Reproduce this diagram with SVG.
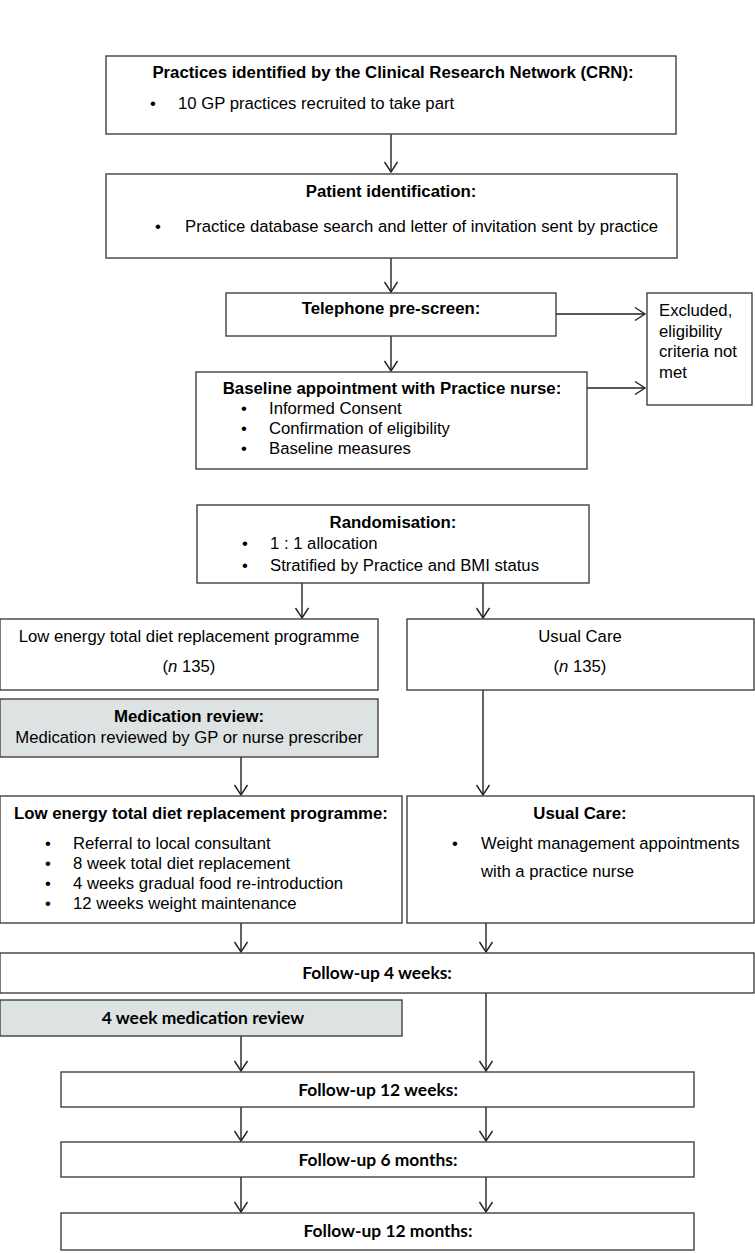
<svg xmlns="http://www.w3.org/2000/svg" width="755" height="1253" viewBox="0 0 755 1253">
<style>
.box{fill:#fff;stroke:#404040;stroke-width:1.4}
.grey{fill:#dde3e2;stroke:#404040;stroke-width:1.4}
text{font-family:"Liberation Sans",Arial,sans-serif;font-size:16.7px;fill:#000}
.b{font-weight:bold;font-size:16.8px}
.c{text-anchor:middle}
.cal{font-family:Lato,"Liberation Sans",sans-serif;font-weight:bold;font-size:17.4px}
.con{stroke:#222;stroke-width:1.4;fill:none;marker-end:url(#ah)}
</style>
<defs>
<marker id="ah" markerUnits="userSpaceOnUse" viewBox="-12 -8 14 16" refX="0" refY="0" markerWidth="14" markerHeight="16" orient="auto">
<path d="M-10,-6.5 L0,0 L-10,6.5" fill="none" stroke="#222" stroke-width="1.4"/>
</marker>
</defs>
<rect width="755" height="1253" fill="#fff"/>
<g id="connectors">
<line class="con" x1="391" y1="134" x2="391" y2="172"/>
<line class="con" x1="391" y1="258" x2="391" y2="292"/>
<line class="con" x1="391" y1="336" x2="391" y2="371"/>
<line class="con" x1="556" y1="314" x2="645" y2="314"/>
<line class="con" x1="587" y1="388" x2="645" y2="388"/>
<line class="con" x1="302" y1="583" x2="302" y2="618"/>
<line class="con" x1="483" y1="583" x2="483" y2="618"/>
<line class="con" x1="241" y1="757" x2="241" y2="795"/>
<line class="con" x1="483" y1="690" x2="483" y2="795"/>
<line class="con" x1="241" y1="923" x2="241" y2="952"/>
<line class="con" x1="486" y1="923" x2="486" y2="952"/>
<line class="con" x1="241" y1="1036" x2="241" y2="1071"/>
<line class="con" x1="486" y1="993" x2="486" y2="1071"/>
<line class="con" x1="241" y1="1107" x2="241" y2="1141"/>
<line class="con" x1="486" y1="1107" x2="486" y2="1141"/>
<line class="con" x1="241" y1="1177" x2="241" y2="1212"/>
<line class="con" x1="486" y1="1177" x2="486" y2="1212"/>
</g>
<g id="practices">
<rect class="box" x="106" y="56" width="570" height="78"/>
<text class="b c" x="393" y="78">Practices identified by the Clinical Research Network (CRN):</text>
<text x="150" y="109">•</text>
<text x="178" y="109">10 GP practices recruited to take part</text>
</g>
<g id="patient-id">
<rect class="box" x="106" y="174" width="571" height="84"/>
<text class="b c" x="391" y="197">Patient identification:</text>
<text x="155" y="232">•</text>
<text x="185" y="232">Practice database search and letter of invitation sent by practice</text>
</g>
<g id="telephone">
<rect class="box" x="226" y="293" width="330" height="43"/>
<text class="b c" x="391" y="314">Telephone pre-screen:</text>
</g>
<g id="excluded">
<rect class="box" x="647" y="293" width="105" height="112"/>
<text x="659" y="316">Excluded,</text>
<text x="659" y="337">eligibility</text>
<text x="659" y="357">criteria not</text>
<text x="659" y="378">met</text>
</g>
<g id="baseline">
<rect class="box" x="196" y="372" width="391" height="97"/>
<text class="b c" x="392" y="394">Baseline appointment with Practice nurse:</text>
<text x="241" y="414">•</text><text x="269" y="414">Informed Consent</text>
<text x="241" y="434">•</text><text x="269" y="434">Confirmation of eligibility</text>
<text x="241" y="454">•</text><text x="269" y="454">Baseline measures</text>
</g>
<g id="randomisation">
<rect class="box" x="197" y="505" width="392" height="78"/>
<text class="b c" x="393" y="528">Randomisation:</text>
<text x="242" y="549">•</text><text x="270" y="549">1 : 1 allocation</text>
<text x="242" y="571">•</text><text x="270" y="571">Stratified by Practice and BMI status</text>
</g>
<g id="arm-tdr">
<rect class="box" x="0" y="619" width="378" height="71"/>
<text class="c" x="189" y="642">Low energy total diet replacement programme</text>
<text class="c" x="189" y="672">(<tspan font-style="italic">n</tspan> 135)</text>
</g>
<g id="arm-usual">
<rect class="box" x="407" y="619" width="347" height="71"/>
<text class="c" x="580" y="642">Usual Care</text>
<text class="c" x="580" y="672">(<tspan font-style="italic">n</tspan> 135)</text>
</g>
<g id="med-review">
<rect class="grey" x="0" y="699" width="378" height="58"/>
<text class="b c" x="189" y="722">Medication review:</text>
<text class="c" x="189" y="743">Medication reviewed by GP or nurse prescriber</text>
</g>
<g id="tdr-programme">
<rect class="box" x="0" y="796" width="402" height="127"/>
<text class="b c" x="201" y="819">Low energy total diet replacement programme:</text>
<text x="45" y="849">•</text><text x="73" y="849">Referral to local consultant</text>
<text x="45" y="869">•</text><text x="73" y="869">8 week total diet replacement</text>
<text x="45" y="889">•</text><text x="73" y="889">4 weeks gradual food re-introduction</text>
<text x="45" y="909">•</text><text x="73" y="909">12 weeks weight maintenance</text>
</g>
<g id="usual-care">
<rect class="box" x="407" y="796" width="347" height="127"/>
<text class="b c" x="580" y="819">Usual Care:</text>
<text x="452" y="849">•</text><text x="481" y="849">Weight management appointments</text>
<text x="481" y="877">with a practice nurse</text>
</g>
<g id="fu-4w">
<rect class="box" x="0" y="953" width="754" height="40"/>
<text class="cal c" x="377" y="979">Follow-up 4 weeks:</text>
</g>
<g id="med-review-4w">
<rect class="grey" x="0" y="1000" width="402" height="36"/>
<text class="cal c" x="203" y="1024">4 week medication review</text>
</g>
<g id="fu-12w">
<rect class="box" x="61" y="1072" width="633" height="35"/>
<text class="cal c" x="378" y="1096">Follow-up 12 weeks:</text>
</g>
<g id="fu-6m">
<rect class="box" x="61" y="1142" width="633" height="35"/>
<text class="cal c" x="378" y="1166">Follow-up 6 months:</text>
</g>
<g id="fu-12m">
<rect class="box" x="61" y="1213" width="633" height="37"/>
<text class="cal c" x="388" y="1237">Follow-up 12 months:</text>
</g>
</svg>
